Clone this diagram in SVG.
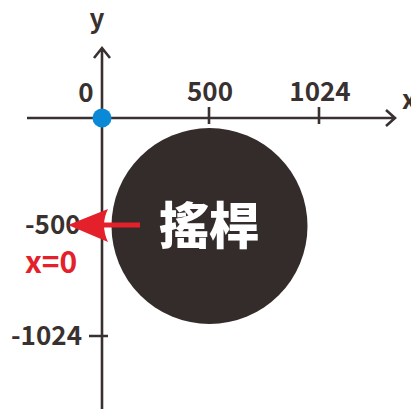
<svg xmlns="http://www.w3.org/2000/svg" width="411" height="409" viewBox="0 0 411 409">
<style>
.ax{stroke:#393130;stroke-width:2.6;fill:none;stroke-linecap:butt}
.lbl{font-family:"Noto Sans CJK TC","Noto Sans",sans-serif;font-weight:700;font-size:26px;fill:#393130}
.red{fill:#e4202a}
</style>
<rect width="411" height="409" fill="#fff"/>
<g id="axes">
<path class="ax" d="M27 118H394M386 110L395 118L386 126"/>
<path class="ax" d="M102 409V49M94 58L102 48L110 58"/>
<path class="ax" d="M209 107V124M319 107V124M89 336H108"/>
</g>
<g id="labels">
<text class="lbl" x="97" y="28" text-anchor="middle" font-size="28">y</text>
<text class="lbl" x="402" y="109" font-size="28">x</text>
<text class="lbl" x="86" y="102" text-anchor="middle">0</text>
<text class="lbl" x="210" y="101" text-anchor="middle">500</text>
<text class="lbl" x="320" y="101" text-anchor="middle">1024</text>
<text class="lbl" x="25" y="234">-500</text>
<text class="lbl" x="11" y="345">-1024</text>
</g>
<g id="joystick">
<circle cx="209.5" cy="226" r="98" fill="#332c2b"/>
<text x="209" y="244" text-anchor="middle" font-family="'Noto Sans CJK TC','Noto Sans CJK SC',sans-serif" font-weight="900" font-size="50" fill="#fff">搖桿</text>
</g>
<g id="origin">
<circle cx="102" cy="118" r="9.5" fill="#0a89d6"/>
</g>
<g id="connectors">
<path d="M140 225H100" stroke="#e4202a" stroke-width="5"/>
<path class="red" d="M68 225L108 209Q100 225 108 242Z"/>
</g>
<g id="x0">
<text x="25" y="273" font-family="'Noto Sans CJK TC','Noto Sans',sans-serif" font-weight="700" font-size="30" class="red">x=0</text>
</g>
</svg>
